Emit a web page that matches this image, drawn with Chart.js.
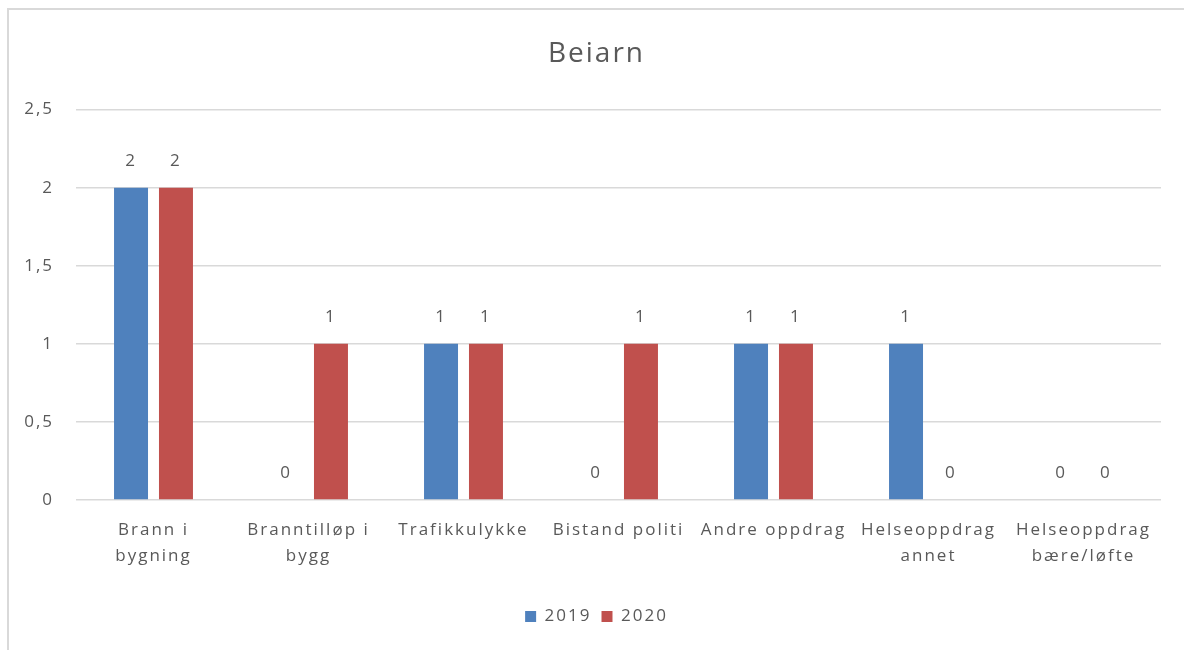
<!DOCTYPE html>
<html>
<head>
<meta charset="utf-8">
<title>Beiarn</title>
<script src="https://cdn.jsdelivr.net/npm/chart.js"></script>
<style>
  html, body { margin: 0; padding: 0; background: #fff; overflow: hidden; width: 1184px; height: 650px; }
  .frame {
    position: absolute; left: 7px; top: 8px; width: 1190px; height: 660px;
    border-left: 2px solid #d9d9d9; border-top: 2px solid #d9d9d9;
  }
  .chart-box { position: absolute; left: 9px; top: 10px; width: 1175px; height: 640px; }
</style>
</head>
<body>
<div class="frame"></div>
<div class="chart-box"><canvas id="myChart"></canvas></div>
<script>
  // Data
  const categories = [
    ['Brann i', 'bygning'],
    ['Branntilløp i', 'bygg'],
    'Trafikkulykke',
    'Bistand politi',
    'Andre oppdrag',
    ['Helseoppdrag', 'annet'],
    ['Helseoppdrag', 'bære/løfte']
  ];
  const series2019 = [2, 0, 1, 0, 1, 1, 0];
  const series2020 = [2, 1, 1, 1, 1, 0, 0];
  const yTicks = [0, 0.5, 1, 1.5, 2, 2.5];

  const FONT = 'Open Sans';
  const TEXT = '#595959';
  const SPACING = '2px';

  // Excel-ish wide text: set letter spacing on the canvas before layout and drawing
  const spacing = {
    id: 'spacing',
    beforeUpdate(chart) { chart.ctx.letterSpacing = SPACING; },
    beforeDraw(chart) { chart.ctx.letterSpacing = SPACING; }
  };

  // Draw the value above each bar (like Excel data labels)
  const valueLabels = {
    id: 'valueLabels',
    afterDatasetsDraw(chart) {
      const ctx = chart.ctx;
      ctx.save();
      ctx.font = '17px "' + FONT + '"';
      ctx.fillStyle = TEXT;
      ctx.textAlign = 'center';
      ctx.textBaseline = 'middle';
      chart.data.datasets.forEach((ds, i) => {
        chart.getDatasetMeta(i).data.forEach((bar, j) => {
          ctx.fillText(String(ds.data[j]).replace('.', ','), bar.x, bar.y - 27);
        });
      });
      ctx.restore();
    }
  };

  new Chart(document.getElementById('myChart'), {
    type: 'bar',
    data: {
      labels: categories,
      datasets: [
        { label: '2019', data: series2019, backgroundColor: '#4f81bd' },
        { label: '2020', data: series2020, backgroundColor: '#c0504d' }
      ]
    },
    options: {
      responsive: true,
      maintainAspectRatio: false,
      animation: false,
      categoryPercentage: 0.58,
      barPercentage: 0.756,
      layout: { padding: { left: 0, right: 0, top: 0, bottom: 15 } },
      scales: {
        x: {
          grid: { display: false },
          border: { display: false },
          afterFit: (axis) => { axis.height = 98; },
          ticks: {
            color: TEXT,
            font: { family: FONT, size: 17, lineHeight: 1.55 },
            padding: 9,
            maxRotation: 0,
            autoSkip: false
          }
        },
        y: {
          min: 0,
          max: 2.5,
          afterBuildTicks: (axis) => { axis.ticks = yTicks.map(v => ({ value: v })); },
          afterFit: (axis) => { axis.width = 67; },
          grid: { color: '#d9d9d9', drawTicks: false, lineWidth: 1.5 },
          border: { display: false },
          ticks: {
            color: TEXT,
            font: { family: FONT, size: 17 },
            padding: 22,
            callback: (v) => String(v).replace('.', ',')
          }
        },
        // empty right-hand axis, only to keep a blank strip right of the plot
        right: {
          position: 'right',
          grid: { display: false },
          border: { display: false },
          ticks: { display: false },
          afterFit: (axis) => { axis.width = 23; }
        }
      },
      plugins: {
        title: {
          display: true,
          text: 'Beiarn',
          color: TEXT,
          font: { family: FONT, size: 28, weight: 'normal' },
          padding: { top: 27, bottom: 39 }
        },
        legend: {
          position: 'bottom',
          labels: { color: TEXT, font: { family: FONT, size: 17 }, boxWidth: 11, boxHeight: 11, padding: 10 }
        },
        tooltip: { enabled: false }
      }
    },
    plugins: [spacing, valueLabels]
  });
</script>
</body>
</html>
